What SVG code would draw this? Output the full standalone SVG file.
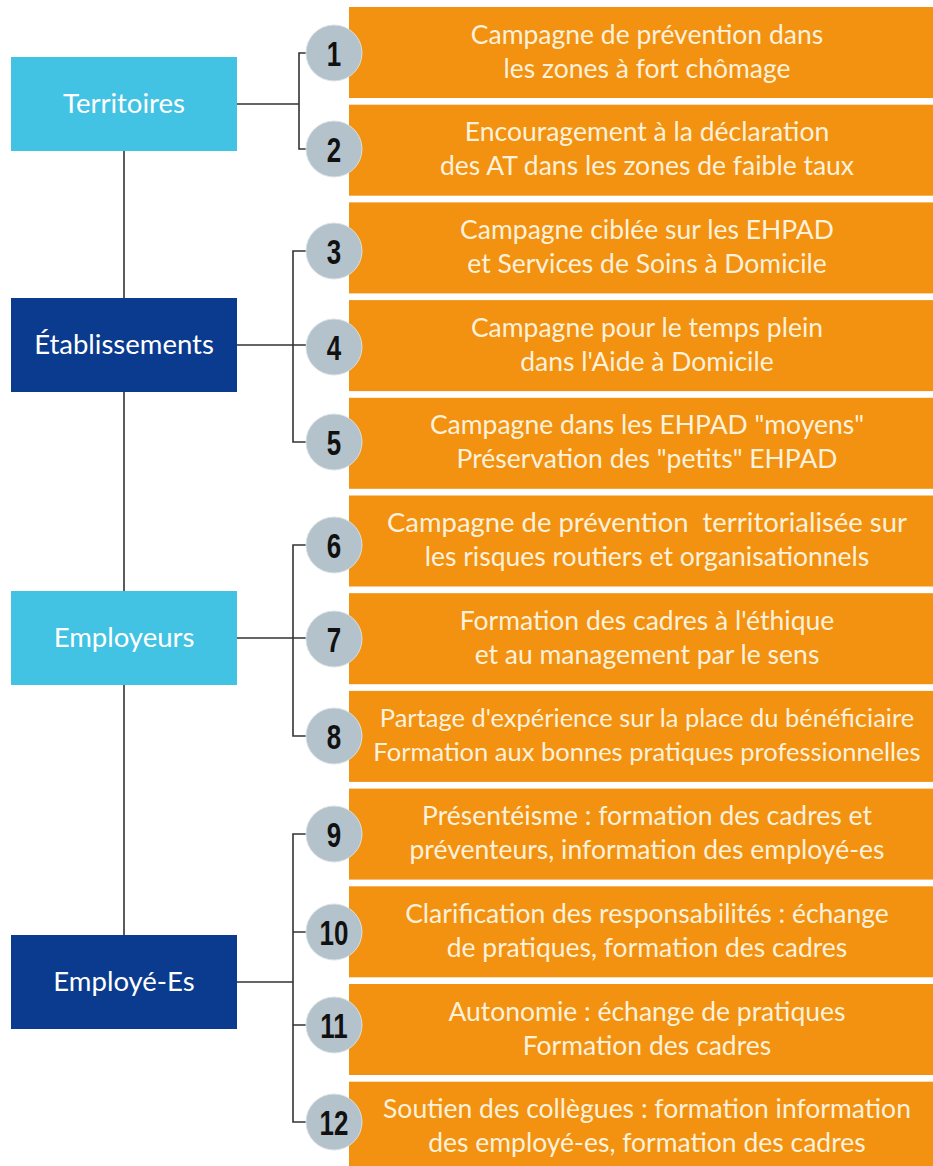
<svg xmlns="http://www.w3.org/2000/svg" width="933" height="1166" viewBox="0 0 933 1166">
<style>
.light{fill:#42c3e4}
.dark{fill:#0a3b8e}
.lbl{font-family:Lato,"Liberation Sans",sans-serif;font-size:27.5px;fill:#ffffff;text-anchor:middle}
.box{fill:#f29210}
.txt{font-family:Lato,"Liberation Sans",sans-serif;font-size:26.5px;fill:#fdf1dc;text-anchor:middle}
.txt8{font-family:Lato,"Liberation Sans",sans-serif;font-size:25.5px;fill:#fdf1dc;text-anchor:middle}
.circ{fill:#b4c3cb;stroke:#d9e1e5;stroke-width:1}
.num{font-family:"Liberation Sans",Arial,sans-serif;font-weight:bold;font-size:36px;fill:#111111;text-anchor:middle}
.ln{fill:none;stroke:#333333;stroke-width:1.6}
</style>
<rect width="933" height="1166" fill="#ffffff"/>
<g id="connectors">
<path class="ln" d="M124 151 V935"/>
<path class="ln" d="M237 104 H299 M307 53 H299 V149 H307"/>
<path class="ln" d="M237 345 H307 M307 251 H293 V442 H307"/>
<path class="ln" d="M237 638 H307 M307 545 H293 V736 H307"/>
<path class="ln" d="M237 982 H293 M307 834 H293 V1122 H307 M293 932 H307 M293 1025 H307"/>
</g>
<g id="territoires"><rect class="light" x="11" y="57" width="226" height="94"/><text class="lbl" x="124" y="113">Territoires</text></g>
<g id="etablissements"><rect class="dark" x="11" y="298" width="226" height="94"/><text class="lbl" x="124" y="354">Établissements</text></g>
<g id="employeurs"><rect class="light" x="11" y="591" width="226" height="94"/><text class="lbl" x="124" y="647">Employeurs</text></g>
<g id="employes"><rect class="dark" x="11" y="935" width="226" height="94"/><text class="lbl" x="124" y="991">Employé-Es</text></g>

<g id="action1"><rect class="box" x="349" y="7" width="584" height="91"/><text class="txt" x="647" y="43.5">Campagne de prévention dans</text><text class="txt" x="647" y="77.5">les zones à fort chômage</text><circle class="circ" cx="334" cy="53" r="28"/><text class="num" transform="translate(334 66) scale(0.72 1)">1</text></g>
<g id="action2"><rect class="box" x="349" y="104.7" width="584" height="91"/><text class="txt" x="647" y="141">Encouragement à la déclaration</text><text class="txt" x="647" y="175">des AT dans les zones de faible taux</text><circle class="circ" cx="334" cy="149" r="28"/><text class="num" transform="translate(334 162) scale(0.72 1)">2</text></g>
<g id="action3"><rect class="box" x="349" y="202.4" width="584" height="91"/><text class="txt" x="647" y="239">Campagne ciblée sur les EHPAD</text><text class="txt" x="647" y="273">et Services de Soins à Domicile</text><circle class="circ" cx="334" cy="251" r="28"/><text class="num" transform="translate(334 264) scale(0.72 1)">3</text></g>
<g id="action4"><rect class="box" x="349" y="300.1" width="584" height="91"/><text class="txt" x="647" y="336.5">Campagne pour le temps plein</text><text class="txt" x="647" y="370.5">dans l'Aide à Domicile</text><circle class="circ" cx="334" cy="347" r="28"/><text class="num" transform="translate(334 360) scale(0.72 1)">4</text></g>
<g id="action5"><rect class="box" x="349" y="397.8" width="584" height="91"/><text class="txt" x="647" y="434">Campagne dans les EHPAD "moyens"</text><text class="txt" x="647" y="468">Préservation des "petits" EHPAD</text><circle class="circ" cx="334" cy="442" r="28"/><text class="num" transform="translate(334 455) scale(0.72 1)">5</text></g>
<g id="action6"><rect class="box" x="349" y="495.5" width="584" height="91"/><text class="txt" x="647" y="532" xml:space="preserve" textLength="520" lengthAdjust="spacingAndGlyphs">Campagne de prévention  territorialisée sur</text><text class="txt" x="647" y="566">les risques routiers et organisationnels</text><circle class="circ" cx="334" cy="545" r="28"/><text class="num" transform="translate(334 558) scale(0.72 1)">6</text></g>
<g id="action7"><rect class="box" x="349" y="593.2" width="584" height="91"/><text class="txt" x="647" y="629.5">Formation des cadres à l'éthique</text><text class="txt" x="647" y="663.5">et au management par le sens</text><circle class="circ" cx="334" cy="639" r="28"/><text class="num" transform="translate(334 652) scale(0.72 1)">7</text></g>
<g id="action8"><rect class="box" x="349" y="690.9" width="584" height="91"/><text class="txt8" x="647" y="727">Partage d'expérience sur la place du bénéficiaire</text><text class="txt8" x="647" y="761">Formation aux bonnes pratiques professionnelles</text><circle class="circ" cx="334" cy="736" r="28"/><text class="num" transform="translate(334 749) scale(0.72 1)">8</text></g>
<g id="action9"><rect class="box" x="349" y="788.6" width="584" height="91"/><text class="txt" x="647" y="825">Présentéisme : formation des cadres et</text><text class="txt" x="647" y="859">préventeurs, information des employé-es</text><circle class="circ" cx="334" cy="834" r="28"/><text class="num" transform="translate(334 847) scale(0.72 1)">9</text></g>
<g id="action10"><rect class="box" x="349" y="886.3" width="584" height="91"/><text class="txt" x="647" y="922.5">Clarification des responsabilités : échange</text><text class="txt" x="647" y="956.5">de pratiques, formation des cadres</text><circle class="circ" cx="334" cy="932" r="28"/><text class="num" transform="translate(334 945) scale(0.72 1)">10</text></g>
<g id="action11"><rect class="box" x="349" y="984" width="584" height="91"/><text class="txt" x="647" y="1020.5">Autonomie : échange de pratiques</text><text class="txt" x="647" y="1054.5">Formation des cadres</text><circle class="circ" cx="334" cy="1025" r="28"/><text class="num" transform="translate(334 1038) scale(0.72 1)">11</text></g>
<g id="action12"><rect class="box" x="349" y="1081.7" width="584" height="91"/><text class="txt" x="647" y="1118">Soutien des collègues : formation information</text><text class="txt" x="647" y="1152">des employé-es, formation des cadres</text><circle class="circ" cx="334" cy="1122" r="28"/><text class="num" transform="translate(334 1135) scale(0.72 1)">12</text></g>
</svg>
